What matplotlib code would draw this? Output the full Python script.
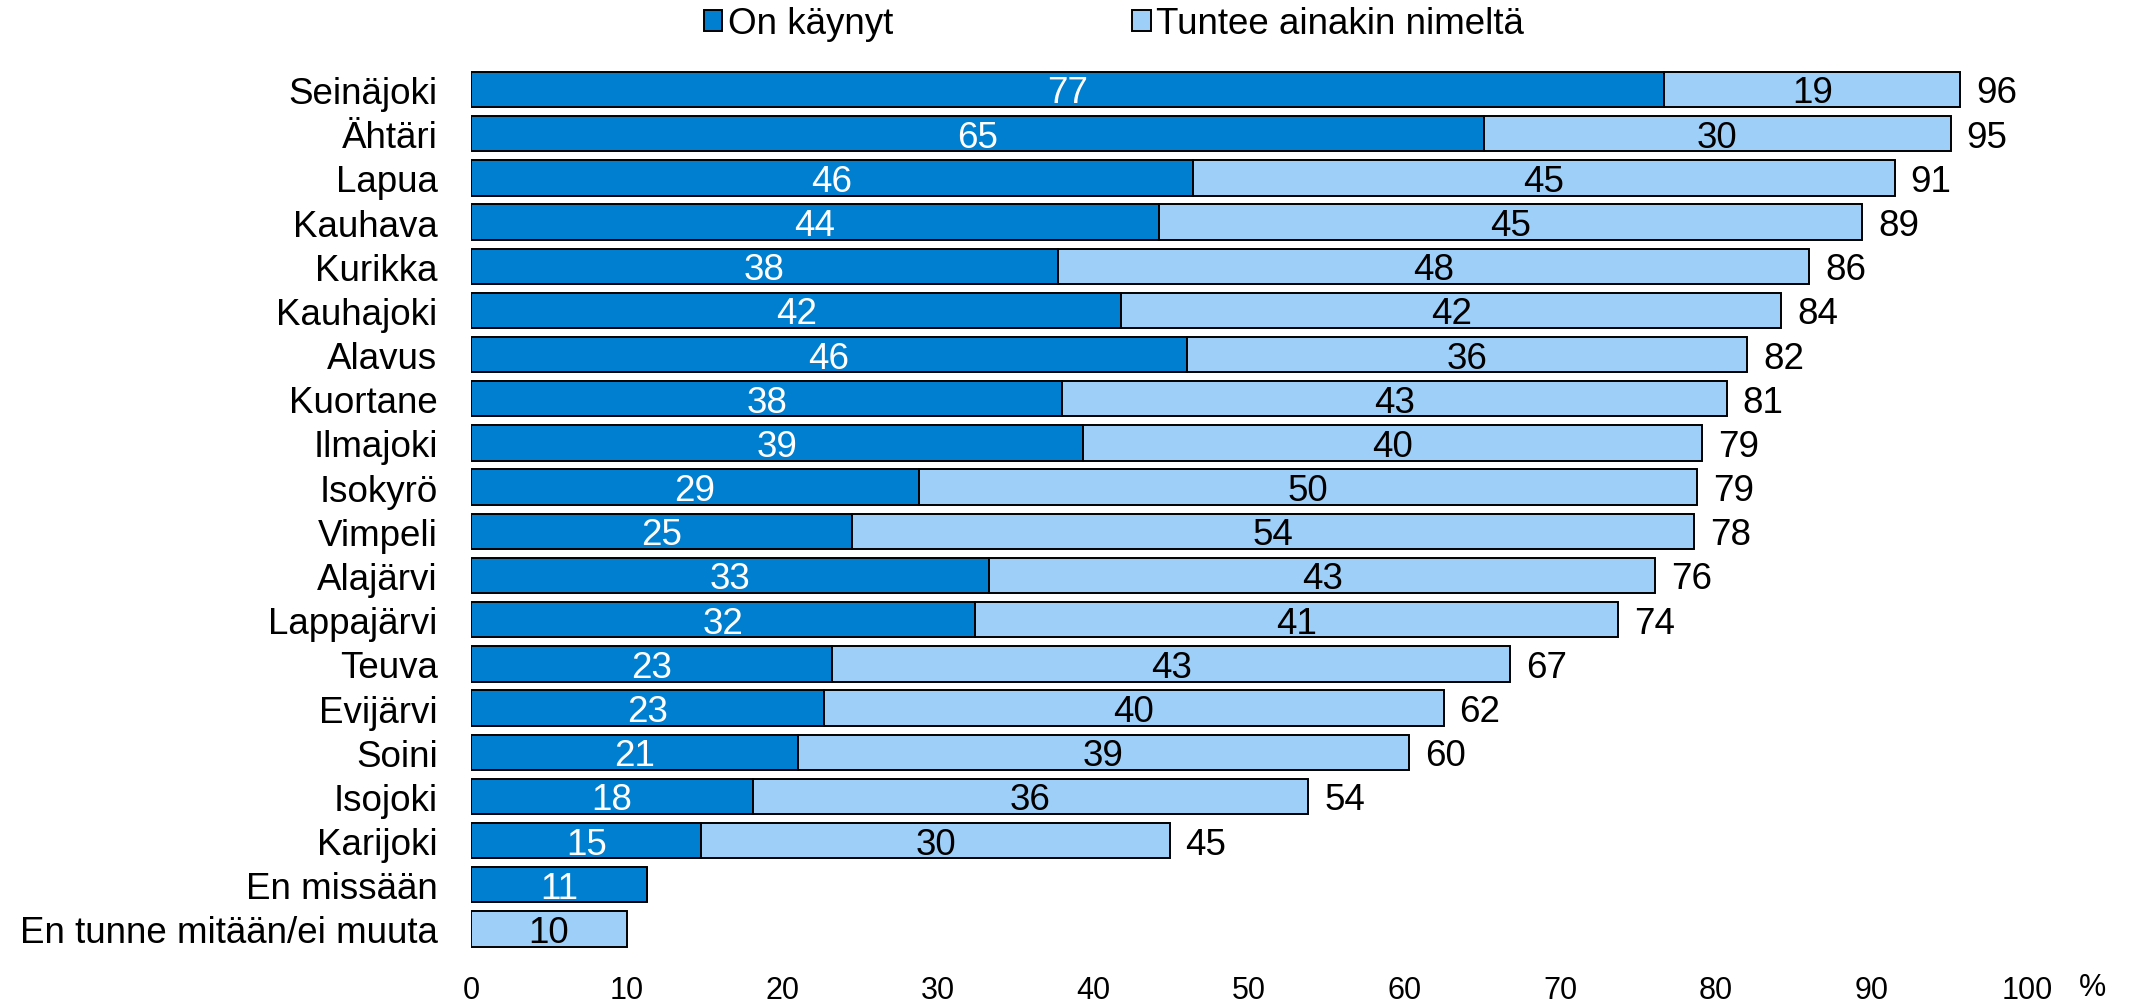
import matplotlib
matplotlib.use("Agg")
import matplotlib.pyplot as plt
from matplotlib.patches import Patch

plt.rcParams['font.family'] = ['Liberation Sans', 'DejaVu Sans']

categories = ["Seinäjoki", "Ähtäri", "Lapua", "Kauhava", "Kurikka", "Kauhajoki",
              "Alavus", "Kuortane", "Ilmajoki", "Isokyrö", "Vimpeli", "Alajärvi",
              "Lappajärvi", "Teuva", "Evijärvi", "Soini", "Isojoki", "Karijoki",
              "En missään", "En tunne mitään/ei muuta"]
visited = [76.7, 65.1, 46.4, 44.2, 37.7, 41.8, 46.0, 38.0, 39.3, 28.8, 24.5, 33.3,
           32.4, 23.2, 22.7, 21.0, 18.1, 14.8, 11.3, 0.0]
known = [19.0, 30.0, 45.1, 45.2, 48.3, 42.4, 36.0, 42.7, 39.8, 50.0, 54.1, 42.8,
         41.3, 43.6, 39.8, 39.3, 35.7, 30.1, 0.0, 10.0]
visited_lbl = [77, 65, 46, 44, 38, 42, 46, 38, 39, 29, 25, 33, 32, 23, 23, 21, 18, 15, 11, None]
known_lbl = [19, 30, 45, 45, 48, 42, 36, 43, 40, 50, 54, 43, 41, 43, 40, 39, 36, 30, None, 10]
total_lbl = [96, 95, 91, 89, 86, 84, 82, 81, 79, 79, 78, 76, 74, 67, 62, 60, 54, 45, None, None]
xticks = [0, 10, 20, 30, 40, 50, 60, 70, 80, 90, 100]
series_names = ["On käynyt", "Tuntee ainakin nimeltä"]

dark = "#007FD0"
light = "#9DCFF8"

W, H = 2133, 1003
fig = plt.figure(figsize=(W / 100, H / 100), dpi=100)
ax = fig.add_axes([471 / W, 1 - 952 / H, (2027 - 471) / W, (952 - 68.4) / H])

y = list(range(len(categories)))
ax.barh(y, visited, height=0.8, color=dark, edgecolor="black", linewidth=1.4)
ax.barh(y, known, left=visited, height=0.8, color=light, edgecolor="black", linewidth=1.4)

fs = 26.5
dy = -2.5  # points, to visually center digits
for i in y:
    if visited_lbl[i] is not None:
        ax.annotate(str(visited_lbl[i]), (visited[i] / 2, i), xytext=(0, dy),
                    textcoords="offset points", ha="center", va="center",
                    color="white", fontsize=fs)
    if known_lbl[i] is not None:
        ax.annotate(str(known_lbl[i]), (visited[i] + known[i] / 2, i), xytext=(0, dy),
                    textcoords="offset points", ha="center", va="center",
                    color="black", fontsize=fs)
    if total_lbl[i] is not None:
        ax.annotate(str(total_lbl[i]), (visited[i] + known[i], i), xytext=(11.5, dy),
                    textcoords="offset points", ha="left", va="center", fontsize=fs)

ax.set_xlim(0, 100)
ax.set_ylim(len(categories) - 0.5, -0.5)
ax.set_yticks(y)
ax.set_yticklabels(categories, fontsize=fs)
ax.set_xticks(xticks)
ax.set_xticklabels([str(t) for t in xticks], fontsize=22)
ax.tick_params(axis="y", length=0, pad=24)
ax.tick_params(axis="x", length=0, pad=17)
for s in ax.spines.values():
    s.set_visible(False)

fig.text(2093 / W, 1 - 988 / H, "%", ha="center", va="center", fontsize=22)

handles = [Patch(facecolor=dark, edgecolor="black", linewidth=1.4),
           Patch(facecolor=light, edgecolor="black", linewidth=1.4)]
fig.legend(handles, series_names, loc="center", bbox_to_anchor=(1114 / W, 1 - 25 / H),
           ncol=2, frameon=False, fontsize=fs, handlelength=0.5, handleheight=0.5,
           handletextpad=0.15, columnspacing=6.5, borderaxespad=0, borderpad=0)

fig.savefig("out.png", dpi=100)
